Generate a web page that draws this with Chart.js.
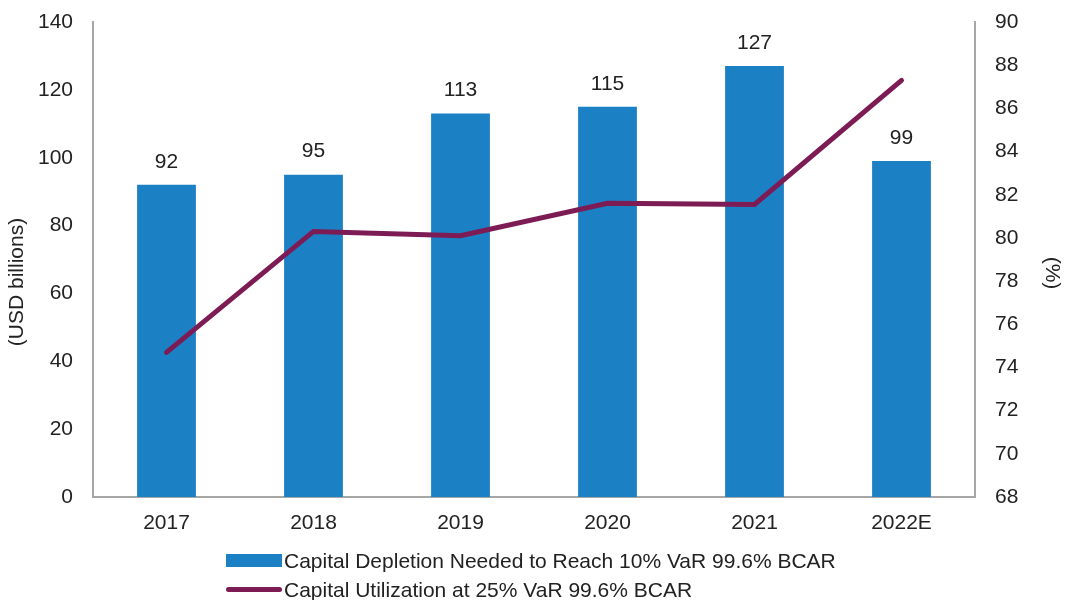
<!DOCTYPE html>
<html>
<head>
<meta charset="utf-8">
<script src="https://cdn.jsdelivr.net/npm/chart.js@4"></script>
<style>
  body { margin: 0; background: #fff; font-family: "Liberation Sans", Arial, sans-serif; }
  #wrap { position: relative; width: 1067px; height: 600px; }
  #legend { position: absolute; left: 226px; top: 546px; font-size: 21px; color: #222; }
  .item { display: flex; align-items: center; height: 29px; }
  .swatch { display: inline-block; width: 56px; margin-right: 2px; }
</style>
</head>
<body>
<div id="wrap">
  <canvas id="chart" width="1067" height="600"></canvas>
  <div id="legend"></div>
</div>
<script>
const years = ['2017', '2018', '2019', '2020', '2021', '2022E'];
const depletion = [92, 95, 113, 115, 127, 99];
const utilization = [74.7, 80.3, 80.1, 81.6, 81.55, 87.3];
const leftTicks = [0, 20, 40, 60, 80, 100, 120, 140];
const rightTicks = [68, 70, 72, 74, 76, 78, 80, 82, 84, 86, 88, 90];

const barLabel = 'Capital Depletion Needed to Reach 10% VaR 99.6% BCAR';
const lineLabel = 'Capital Utilization at 25% VaR 99.6% BCAR';
const leftTitle = '(USD billions)';
const rightTitle = '(%)';
const barColor = '#1b80c4';
const lineColor = '#7d1b55';
const textColor = '#222';
const axisColor = '#a6a6a6';
const fontCss = '21px "Liberation Sans", Arial, sans-serif';
const font = { family: '"Liberation Sans", Arial, sans-serif', size: 21 };

// value labels above the bars + axis titles (sit a bit below the middle in the original)
const extras = {
    id: 'extras',
    afterDatasetsDraw(chart) {
        const c = chart.ctx;
        const meta = chart.getDatasetMeta(1);
        c.save();
        c.font = fontCss;
        c.fillStyle = textColor;
        c.textAlign = 'center';
        c.textBaseline = 'middle';
        meta.data.forEach((bar, i) => {
            c.fillText(depletion[i], bar.x, bar.y - 23);
        });

        c.save();
        c.translate(17, 282);
        c.rotate(-Math.PI / 2);
        c.fillText(leftTitle, 0, 0);
        c.restore();

        c.save();
        c.translate(1052, 273);
        c.rotate(Math.PI / 2);
        c.fillText(rightTitle, 0, 0);
        c.restore();
        c.restore();
    }
};

// fixed axis widths, no extra label padding above/below the plot
function fixVertical(width) {
    return s => {
        s.width = width;
        s.paddingTop = 0;
        s.paddingBottom = 0;
    };
}

const ctx = document.getElementById('chart').getContext('2d');
new Chart(ctx, {
    data: {
        labels: years,
        datasets: [{
            type: 'line',
            label: lineLabel,
            data: utilization,
            yAxisID: 'y2',
            borderColor: lineColor,
            borderWidth: 5,
            pointRadius: 0,
            tension: 0,
            borderCapStyle: 'round',
            order: 1
        }, {
            type: 'bar',
            label: barLabel,
            data: depletion,
            yAxisID: 'y',
            backgroundColor: barColor,
            barPercentage: 0.4,
            categoryPercentage: 1,
            order: 2
        }]
    },
    options: {
        responsive: false,
        animation: false,
        layout: { padding: { top: 22, bottom: 63, left: 0, right: 0 } },
        plugins: {
            legend: { display: false },
            tooltip: { enabled: false }
        },
        scales: {
            x: {
                grid: { display: false, drawTicks: false },
                border: { color: axisColor, width: 2 },
                ticks: { color: textColor, font, padding: 14 },
                afterFit(s) { s.height = 40; }
            },
            y: {
                position: 'left',
                min: 0,
                max: 140,
                afterBuildTicks(s) { s.ticks = leftTicks.map(v => ({ value: v })); },
                grid: { display: false, drawTicks: false },
                border: { color: axisColor, width: 2 },
                ticks: { color: textColor, font, padding: 20 },
                afterFit: fixVertical(93)
            },
            y2: {
                position: 'right',
                min: 68,
                max: 90,
                afterBuildTicks(s) { s.ticks = rightTicks.map(v => ({ value: v })); },
                grid: { display: false, drawTicks: false },
                border: { color: axisColor, width: 2 },
                ticks: { color: textColor, font, padding: 20 },
                afterFit: fixVertical(92)
            }
        }
    },
    plugins: [extras]
});

// legend, left aligned rows like the original
const legend = document.getElementById('legend');
[[barLabel, 'bar'], [lineLabel, 'line']].forEach(([text, kind]) => {
    const item = document.createElement('div');
    item.className = 'item';
    const sw = document.createElement('span');
    sw.className = 'swatch';
    if (kind === 'bar') {
        sw.style.height = '13px';
        sw.style.background = barColor;
    } else {
        sw.style.height = '5px';
        sw.style.borderRadius = '3px';
        sw.style.background = lineColor;
    }
    item.appendChild(sw);
    item.appendChild(document.createTextNode(text));
    legend.appendChild(item);
});
</script>
</body>
</html>
